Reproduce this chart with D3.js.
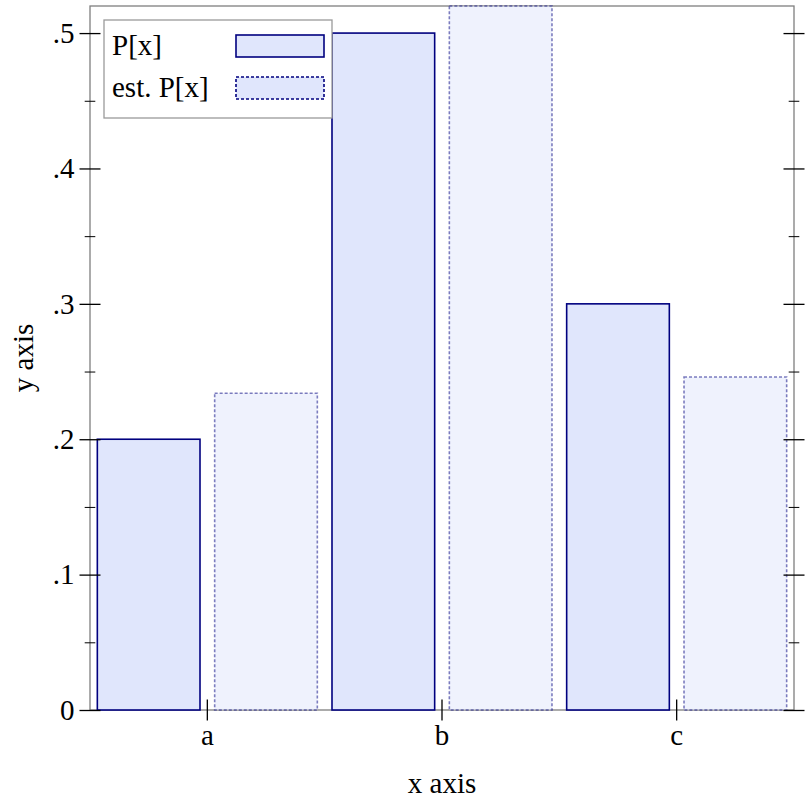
<!DOCTYPE html>
<html>
<head>
<meta charset="utf-8">
<script src="https://cdn.jsdelivr.net/npm/d3@7"></script>
<style>
html,body{margin:0;padding:0;background:#fff;}
svg{display:block;}
text{font-family:"Liberation Serif","Times New Roman",serif;fill:#000;}
</style>
</head>
<body>
<svg id="chart" width="812" height="812"></svg>
<script>
// ---- data ----
const categories = ["a", "b", "c"];
const seriesNames = ["P[x]", "est. P[x]"];
const pValues = [0.2, 0.5, 0.3];
const estValues = [0.234, 0.52, 0.246];
const yMajorTicks = [0, 0.1, 0.2, 0.3, 0.4, 0.5];
const yMinorTicks = [0.05, 0.15, 0.25, 0.35, 0.45];
const xLabel = "x axis";
const yLabel = "y axis";

// ---- layout ----
const plotL = 90, plotR = 794, plotT = 6, plotB = 710;
const fontSize = 29;

const svg = d3.select("#chart");

const x = d3.scaleBand().domain(categories).range([plotL, plotR]).padding(0);
const xs = d3.scaleBand().domain(seriesNames).range([0, x.bandwidth()])
  .paddingInner(0.125).paddingOuter(0.0625);
const y = d3.scaleLinear().domain([0, d3.max(estValues.concat(pValues))]).range([plotB, plotT]);

const styles = {
  "P[x]": {fill: "#e0e6fc", stroke: "#00007f", dash: null, opacity: 1},
  "est. P[x]": {fill: "#e0e6fc", stroke: "#00007f", dash: "3,2", opacity: 0.5}
};

const rows = [];
categories.forEach((c, i) => {
  rows.push({cat: c, series: "P[x]", v: pValues[i]});
  rows.push({cat: c, series: "est. P[x]", v: estValues[i]});
});

// frame
svg.append("rect")
  .attr("x", plotL).attr("y", plotT)
  .attr("width", plotR - plotL).attr("height", plotB - plotT)
  .attr("fill", "none").attr("stroke", "#7f7f7f").attr("stroke-width", 1.3);

// bars
svg.append("g").selectAll("rect").data(rows).join("rect")
  .attr("x", d => x(d.cat) + xs(d.series))
  .attr("y", d => y(d.v))
  .attr("width", xs.bandwidth())
  .attr("height", d => y(0) - y(d.v))
  .attr("fill", d => styles[d.series].fill)
  .attr("fill-opacity", d => styles[d.series].opacity)
  .attr("stroke", d => styles[d.series].stroke)
  .attr("stroke-opacity", d => styles[d.series].opacity)
  .attr("stroke-width", 1.6)
  .attr("stroke-dasharray", d => styles[d.series].dash);

// y axis (major + minor ticks, both sides)
const fmt = d => d === 0 ? "0" : d3.format(".1f")(d).replace(/^0/, "");
function yAxisMajor(g, labels) {
  const ax = d3.axisLeft(y).tickValues(yMajorTicks).tickFormat(labels ? fmt : () => "").tickSize(10.5).tickPadding(5);
  g.call(ax);
  g.select(".domain").remove();
  g.selectAll(".tick line").attr("x1", -10.5).attr("x2", 10.5).attr("stroke", "#000").attr("stroke-width", 1.3);
  g.selectAll(".tick text").attr("font-size", fontSize).attr("font-family", "Liberation Serif, serif").attr("fill", "#000");
}
function yAxisMinor(g) {
  const ax = d3.axisLeft(y).tickValues(yMinorTicks).tickFormat(() => "").tickSize(5.3);
  g.call(ax);
  g.select(".domain").remove();
  g.selectAll(".tick line").attr("x1", -5.3).attr("x2", 5.3).attr("stroke", "#000").attr("stroke-width", 1);
}
svg.append("g").attr("transform", `translate(${plotL},0)`).call(yAxisMajor, true);
svg.append("g").attr("transform", `translate(${plotL},0)`).call(yAxisMinor);
svg.append("g").attr("transform", `translate(${plotR},0)`).call(yAxisMajor, false);
svg.append("g").attr("transform", `translate(${plotR},0)`).call(yAxisMinor);

// x axis
const gx = svg.append("g").attr("transform", `translate(0,${plotB})`)
  .call(d3.axisBottom(x).tickSize(10.5).tickPadding(4));
gx.select(".domain").remove();
gx.selectAll(".tick line").attr("y1", -10.5).attr("y2", 10.5).attr("stroke", "#000").attr("stroke-width", 1.3);
gx.selectAll(".tick text").attr("font-size", fontSize).attr("font-family", "Liberation Serif, serif").attr("fill", "#000");

// axis labels
svg.append("text").attr("x", (plotL + plotR) / 2).attr("y", 793)
  .attr("text-anchor", "middle").attr("font-size", fontSize).text(xLabel);
svg.append("text").attr("transform", `translate(33,${(plotT + plotB) / 2}) rotate(-90)`)
  .attr("text-anchor", "middle").attr("font-size", fontSize).text(yLabel);

// legend
const lg = svg.append("g");
lg.append("rect").attr("x", 104).attr("y", 20).attr("width", 228).attr("height", 98)
  .attr("fill", "#fff").attr("stroke", "#9a9a9a").attr("stroke-width", 1.3);
seriesNames.forEach((s, i) => {
  const cy = 46 + i * 42;
  lg.append("text").attr("x", 112).attr("y", cy).attr("dy", "0.32em")
    .attr("font-size", fontSize).text(s);
  lg.append("rect").attr("x", 236).attr("y", cy - 11).attr("width", 88).attr("height", 22)
    .attr("fill", styles[s].fill).attr("stroke", styles[s].stroke)
    .attr("stroke-width", 1.6).attr("stroke-dasharray", styles[s].dash);
});
</script>
</body>
</html>
